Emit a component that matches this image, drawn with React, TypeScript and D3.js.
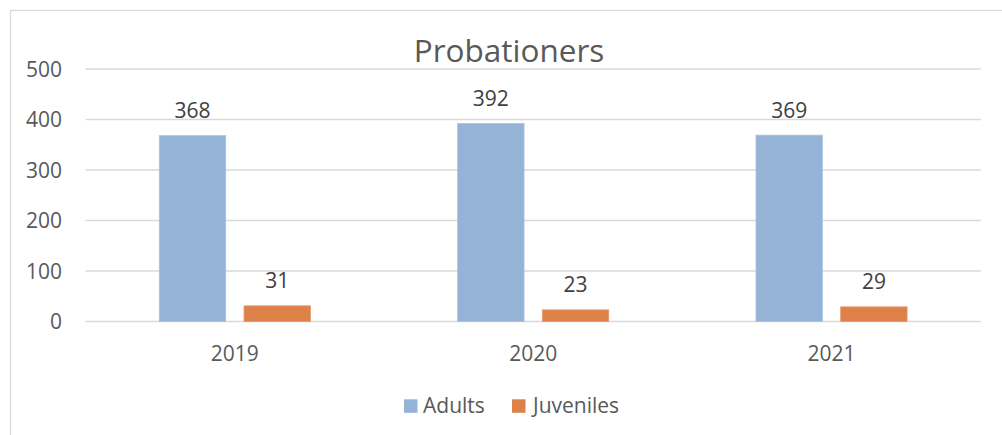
import React from "react";
import * as d3 from "d3";

const categories = ["2019", "2020", "2021"];
const seriesNames = ["Adults", "Juveniles"];
const adults = [368, 392, 369];
const juveniles = [31, 23, 29];
const yTicks = [0, 100, 200, 300, 400, 500];
const title = "Probationers";

const colors: Record<string, string> = { Adults: "#95B3D7", Juveniles: "#DE8149" };
const strokes: Record<string, string> = { Adults: "#A9C2DF", Juveniles: "#E8986A" };

const W = 1002;
const H = 435;
const plotLeft = 85.7;
const plotRight = 980.7;
const font = "'Open Sans', sans-serif";
const textColor = "#595959";
const fs = 21;

export default function App() {
  const y = d3.scaleLinear().domain([0, 500]).range([321.5, 69]);
  const x0 = d3
    .scaleBand<string>()
    .domain(categories)
    .range([plotLeft, plotRight])
    .paddingInner(0.4935)
    .paddingOuter(0.4935 / 2);
  const x1 = d3
    .scaleBand<string>()
    .domain(seriesNames)
    .range([0, x0.bandwidth()])
    .paddingInner(0.216);
  const values: Record<string, number[]> = { Adults: adults, Juveniles: juveniles };

  const legendItems = [
    { name: "Adults", sq: 404, tx: 423 },
    { name: "Juveniles", sq: 512, tx: 533 },
  ];

  return (
    <div style={{ position: "absolute", left: 0, top: 0 }}>
      <svg width={W} height={H} style={{ display: "block", background: "#fff" }}>
        <rect x={10.5} y={10.5} width={1020} height={460} fill="#fff" stroke="#D9D9D9" strokeWidth={1.3} />
        <text x={509} y={62} textAnchor="middle" fontFamily={font} fontSize={31.5} fill={textColor}>
          {title}
        </text>
        {yTicks.map((t) => (
          <g key={t}>
            <line x1={plotLeft} x2={plotRight} y1={y(t)} y2={y(t)} stroke="#D9D9D9" strokeWidth={1.5} />
            <text
              x={62}
              y={y(t)}
              dy="0.36em"
              textAnchor="end"
              fontFamily={font}
              fontSize={fs}
              fill={textColor}
            >
              {t}
            </text>
          </g>
        ))}
        {categories.map((c, i) => (
          <g key={c}>
            {seriesNames.map((s) => {
              const v = values[s][i];
              const bx = (x0(c) ?? 0) + (x1(s) ?? 0);
              const bw = x1.bandwidth();
              return (
                <g key={s}>
                  <rect
                    x={bx}
                    y={y(v)}
                    width={bw}
                    height={y(0) - y(v)}
                    fill={colors[s]}
                    stroke={strokes[s]}
                    strokeWidth={0.8}
                  />
                  <text
                    x={bx + bw / 2}
                    y={y(v) - 17.5}
                    textAnchor="middle"
                    fontFamily={font}
                    fontSize={fs}
                    fill="#404040"
                  >
                    {v}
                  </text>
                </g>
              );
            })}
            <text
              x={(x0(c) ?? 0) + x0.bandwidth() / 2}
              y={361}
              textAnchor="middle"
              fontFamily={font}
              fontSize={fs}
              fill={textColor}
            >
              {c}
            </text>
          </g>
        ))}
        {legendItems.map((l) => (
          <g key={l.name}>
            <rect x={l.sq} y={399.3} width={13.5} height={13.5} fill={colors[l.name]} />
            <text x={l.tx} y={413} fontFamily={font} fontSize={fs} fill={textColor}>
              {l.name}
            </text>
          </g>
        ))}
      </svg>
    </div>
  );
}
